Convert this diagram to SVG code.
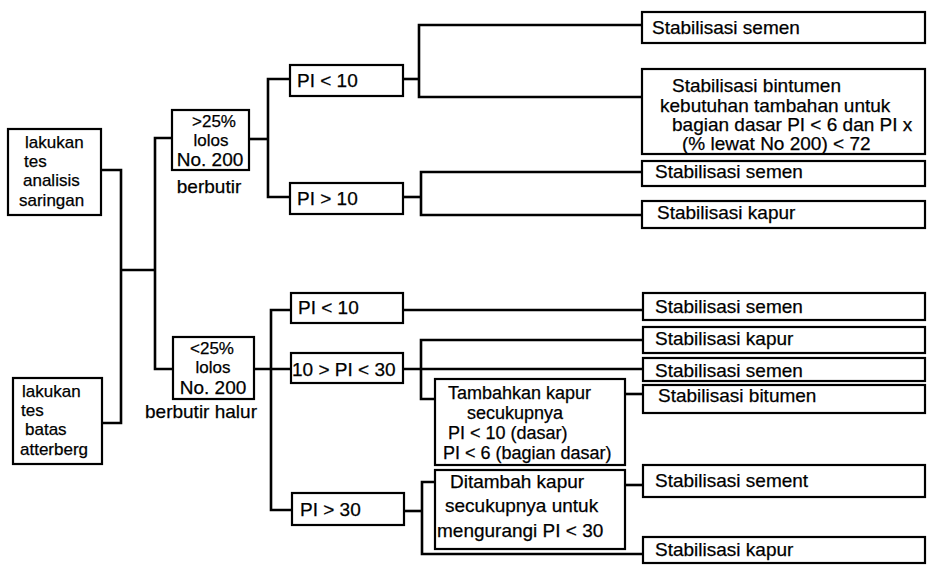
<svg xmlns="http://www.w3.org/2000/svg" width="927" height="574" viewBox="0 0 927 574">
<style>
.box{fill:#fff;stroke:#000;stroke-width:2.2}
.c{fill:none;stroke:#000;stroke-width:2.6;stroke-linejoin:miter}
text{font-family:"Liberation Sans",Arial,sans-serif;font-size:19px;fill:#000;stroke:#000;stroke-width:0.25}
.s{font-size:17px}
.t{font-size:18px}
.m{text-anchor:middle}
</style>
<rect width="927" height="574" fill="#fff"/>
<g id="connectors">
<path class="c" d="M101,170 H121 V423 H102"/>
<path class="c" d="M121,270 H155"/>
<path class="c" d="M172,138 H155 V369 H173"/>
<path class="c" d="M249,139 H268"/>
<path class="c" d="M290,79 H268 V197 H290"/>
<path class="c" d="M403,79 H419"/>
<path class="c" d="M642,25 H419 V97 H642"/>
<path class="c" d="M403,197 H421"/>
<path class="c" d="M642,172 H421 V215 H642"/>
<path class="c" d="M254,369 H291"/>
<path class="c" d="M291,310 H271 V510 H292"/>
<path class="c" d="M403,310 H643"/>
<path class="c" d="M403,369 H643"/>
<path class="c" d="M643,340 H421 V399 H435"/>
<path class="c" d="M625,394 H643"/>
<path class="c" d="M404,511 H422"/>
<path class="c" d="M435,482 H422 V554 H643"/>
<path class="c" d="M625,485 H643"/>
</g>
<g id="n-saringan">
<rect class="box" x="8" y="129" width="93" height="86"/>
<text class="s" x="25" y="148">lakukan</text>
<text class="s" x="24" y="167">tes</text>
<text class="s" x="23" y="186">analisis</text>
<text class="s" x="19" y="206">saringan</text>
</g>
<g id="n-atterberg">
<rect class="box" x="13" y="378" width="89" height="86"/>
<text class="s" x="22" y="397">lakukan</text>
<text class="s" x="21" y="416">tes</text>
<text class="s" x="25" y="435">batas</text>
<text class="s" x="20" y="455">atterberg</text>
</g>
<g id="n-gt25">
<rect class="box" x="172" y="110" width="77" height="60"/>
<text class="m s" x="214" y="127">&gt;25%</text>
<text class="m s" x="211" y="146">lolos</text>
<text class="m" x="210" y="166">No. 200</text>
<text class="m" x="209" y="193">berbutir</text>
</g>
<g id="n-lt25">
<rect class="box" x="173" y="337" width="81" height="62"/>
<text class="m s" x="212" y="354">&lt;25%</text>
<text class="m s" x="213" y="373">lolos</text>
<text class="m" x="213" y="394">No. 200</text>
<text class="m" x="201" y="418">berbutir halur</text>
</g>
<g id="n-pi-lt10-a">
<rect class="box" x="290" y="65" width="113" height="31"/>
<text x="297" y="87">PI &lt; 10</text>
</g>
<g id="n-pi-gt10">
<rect class="box" x="290" y="183" width="113" height="31"/>
<text x="297" y="205">PI &gt; 10</text>
</g>
<g id="n-pi-lt10-b">
<rect class="box" x="291" y="293" width="112" height="30"/>
<text x="298" y="314">PI &lt; 10</text>
</g>
<g id="n-pi-10-30">
<rect class="box" x="291" y="353" width="112" height="30"/>
<text x="292" y="376">10 &gt; PI &lt; 30</text>
</g>
<g id="n-pi-gt30">
<rect class="box" x="292" y="493" width="112" height="32"/>
<text x="300" y="516">PI &gt; 30</text>
</g>
<g id="n-tambahkan">
<rect class="box" x="435" y="379" width="190" height="86"/>
<text class="t" x="448" y="399">Tambahkan kapur</text>
<text class="t" x="467" y="419">secukupnya</text>
<text class="t" x="448" y="439">PI &lt; 10 (dasar)</text>
<text class="t" x="443" y="459">PI &lt; 6 (bagian dasar)</text>
</g>
<g id="n-ditambah">
<rect class="box" x="435" y="470" width="190" height="79"/>
<text x="450" y="488">Ditambah kapur</text>
<text x="445" y="512">secukupnya untuk</text>
<text x="437" y="537">mengurangi PI &lt; 30</text>
</g>
<g id="r1">
<rect class="box" x="642" y="12" width="283" height="31"/>
<text x="652" y="34">Stabilisasi semen</text>
</g>
<g id="r2">
<rect class="box" x="642" y="69" width="283" height="85"/>
<text x="672" y="92">Stabilisasi bintumen</text>
<text x="660" y="112">kebutuhan tambahan untuk</text>
<text x="672" y="131">bagian dasar PI &lt; 6 dan PI x</text>
<text x="682" y="150">(% lewat No 200) &lt; 72</text>
</g>
<g id="r3">
<rect class="box" x="642" y="161" width="283" height="25"/>
<text x="655" y="178">Stabilisasi semen</text>
</g>
<g id="r4">
<rect class="box" x="642" y="201" width="283" height="27"/>
<text x="657" y="219">Stabilisasi kapur</text>
</g>
<g id="r5">
<rect class="box" x="643" y="293" width="282" height="27"/>
<text x="655" y="313">Stabilisasi semen</text>
</g>
<g id="r6">
<rect class="box" x="643" y="327" width="282" height="26"/>
<text x="655" y="345">Stabilisasi kapur</text>
</g>
<g id="r7">
<rect class="box" x="643" y="358" width="282" height="23"/>
<text x="655" y="377">Stabilisasi semen</text>
</g>
<g id="r8">
<rect class="box" x="643" y="385" width="282" height="28"/>
<text x="658" y="402">Stabilisasi bitumen</text>
</g>
<g id="r9">
<rect class="box" x="643" y="465" width="282" height="32"/>
<text x="655" y="487">Stabilisasi sement</text>
</g>
<g id="r10">
<rect class="box" x="643" y="537" width="282" height="26"/>
<text x="655" y="556">Stabilisasi kapur</text>
</g>
</svg>
